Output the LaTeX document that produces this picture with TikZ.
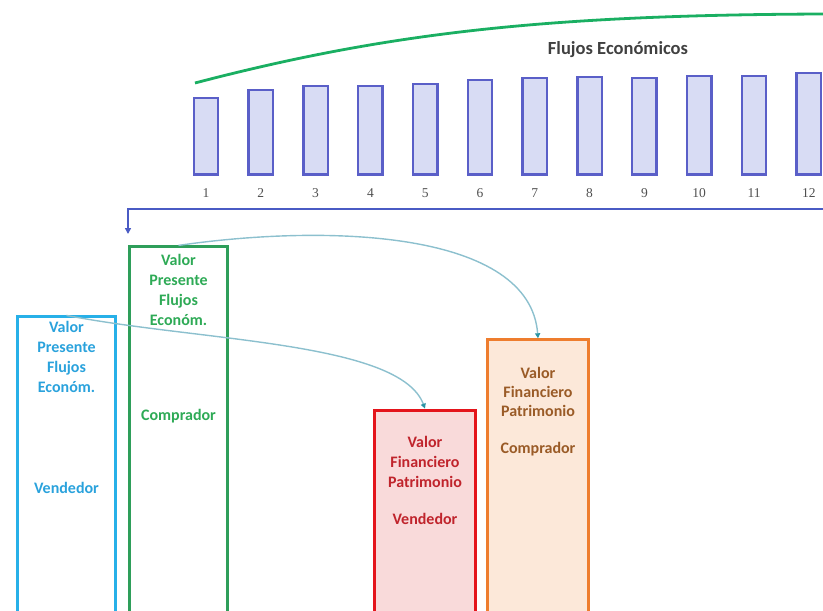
\documentclass[tikz,border=0pt]{standalone}
\usepackage{fontspec}
\setmainfont{Carlito}
\newfontfamily\numfont{Liberation Serif}
\usetikzlibrary{arrows.meta}

\definecolor{barline}{HTML}{5A5FC8}
\definecolor{barfill}{HTML}{D8DCF4}
\definecolor{flowblue}{HTML}{4A5BC4}
\definecolor{curvegreen}{HTML}{1AAF62}
\definecolor{titlegray}{HTML}{404040}
\definecolor{numgray}{HTML}{505050}
\definecolor{greenline}{HTML}{2E9E5A}
\definecolor{greentext}{HTML}{2EAA56}
\definecolor{cyanline}{HTML}{27B0E8}
\definecolor{cyantext}{HTML}{2AA2DC}
\definecolor{redline}{HTML}{E4141B}
\definecolor{redfill}{HTML}{F9DADA}
\definecolor{redtext}{HTML}{C0242C}
\definecolor{orangeline}{HTML}{EE7D2E}
\definecolor{orangefill}{HTML}{FCE8D9}
\definecolor{orangetext}{HTML}{9A5B27}
\definecolor{linkline}{HTML}{8CC0CE}
\definecolor{linktip}{HTML}{2A94A4}

\begin{document}
\begin{tikzpicture}[x=1pt,y=-1pt,
  bar/.style={draw=barline, fill=barfill, line width=2.4pt,
    minimum width=24.5pt, inner sep=0pt, anchor=south},
  numlab/.style={font=\numfont\fontsize{13.5}{15}\selectfont, text=numgray, inner sep=0pt},
  valbox/.style={rectangle, inner sep=0pt, anchor=north, minimum height=380pt},
  boxtext/.style={font=\bfseries\fontsize{16}{20}\selectfont, align=center, inner sep=0pt},
  link/.style={draw=linkline, line width=1.4pt,
    -{Triangle[length=5pt,width=5pt,color=linktip]}},
]
\useasboundingbox (0,0) rectangle (823,611);
\clip (0,0) rectangle (823,611);

% economic flows: twelve periods
\foreach \i/\t in {1/98,2/90,3/86,4/86,5/84,6/80,7/78,8/77,9/78,10/76,11/76,12/73}{
  \pgfmathsetmacro\cx{206+54.8*(\i-1)}
  \node[bar, minimum height={177-\t-2.4}] (bar\i) at (\cx,175.8) {};
  \node[numlab] (num\i) at (\cx,193) {\i};
}

% envelope over the flows
\coordinate (envA) at (195,83);
\coordinate (envB) at (823,14);
\draw[curvegreen, line width=2.8pt] (envA) .. controls (390,32) and (550,15) .. (envB);
\node[font=\bfseries\fontsize{18.5}{22}\selectfont, text=titlegray, inner sep=0pt]
  (title) at (618,50) {Flujos Económicos};

% discounting line back to period zero
\coordinate (flowR) at (823,209);
\coordinate (flowL) at (128,234);
\draw[flowblue, line width=2.4pt, -{Triangle[length=6pt,width=6pt]}] (flowR) -| (flowL);

% value boxes
\node[valbox, draw=greenline, line width=2.8pt, minimum width=98pt] (gbox) at (178.5,245.4) {};
\node[valbox, draw=cyanline, line width=2.8pt, minimum width=98pt] (cbox) at (66.5,315.4) {};
\node[valbox, draw=redline, fill=redfill, line width=3.2pt, minimum width=100.8pt] (rbox) at (425,408.6) {};
\node[valbox, draw=orangeline, fill=orangefill, line width=2.6pt, minimum width=101.4pt] (obox) at (538,338.3) {};

\node[boxtext, text=greentext] (gtxt) at (178.5,290) {Valor\\Presente\\Flujos\\Económ.};
\node[boxtext, text=greentext] (grole) at (178.5,416) {Comprador};
\node[boxtext, text=cyantext] (ctxt) at (66.5,357) {Valor\\Presente\\Flujos\\Económ.};
\node[boxtext, text=cyantext] (crole) at (66.5,488) {Vendedor};
\node[boxtext, text=redtext] (rtxt) at (425,462) {Valor\\Financiero\\Patrimonio};
\node[boxtext, text=redtext] (rrole) at (425,519) {Vendedor};
\node[boxtext, text=orangetext, font=\bfseries\fontsize{16}{19}\selectfont] (otxt) at (538,392) {Valor\\Financiero\\Patrimonio};
\node[boxtext, text=orangetext] (orole) at (538,449) {Comprador};

% links between the present values and the equity values
\draw[link] (gbox.north) .. controls +(152,-22) and +(-8,-107) .. (obox.north);
\draw[link] (cbox.north) .. controls +(134,26) and +(-25,-67) .. (rbox.north);
\end{tikzpicture}
\end{document}
